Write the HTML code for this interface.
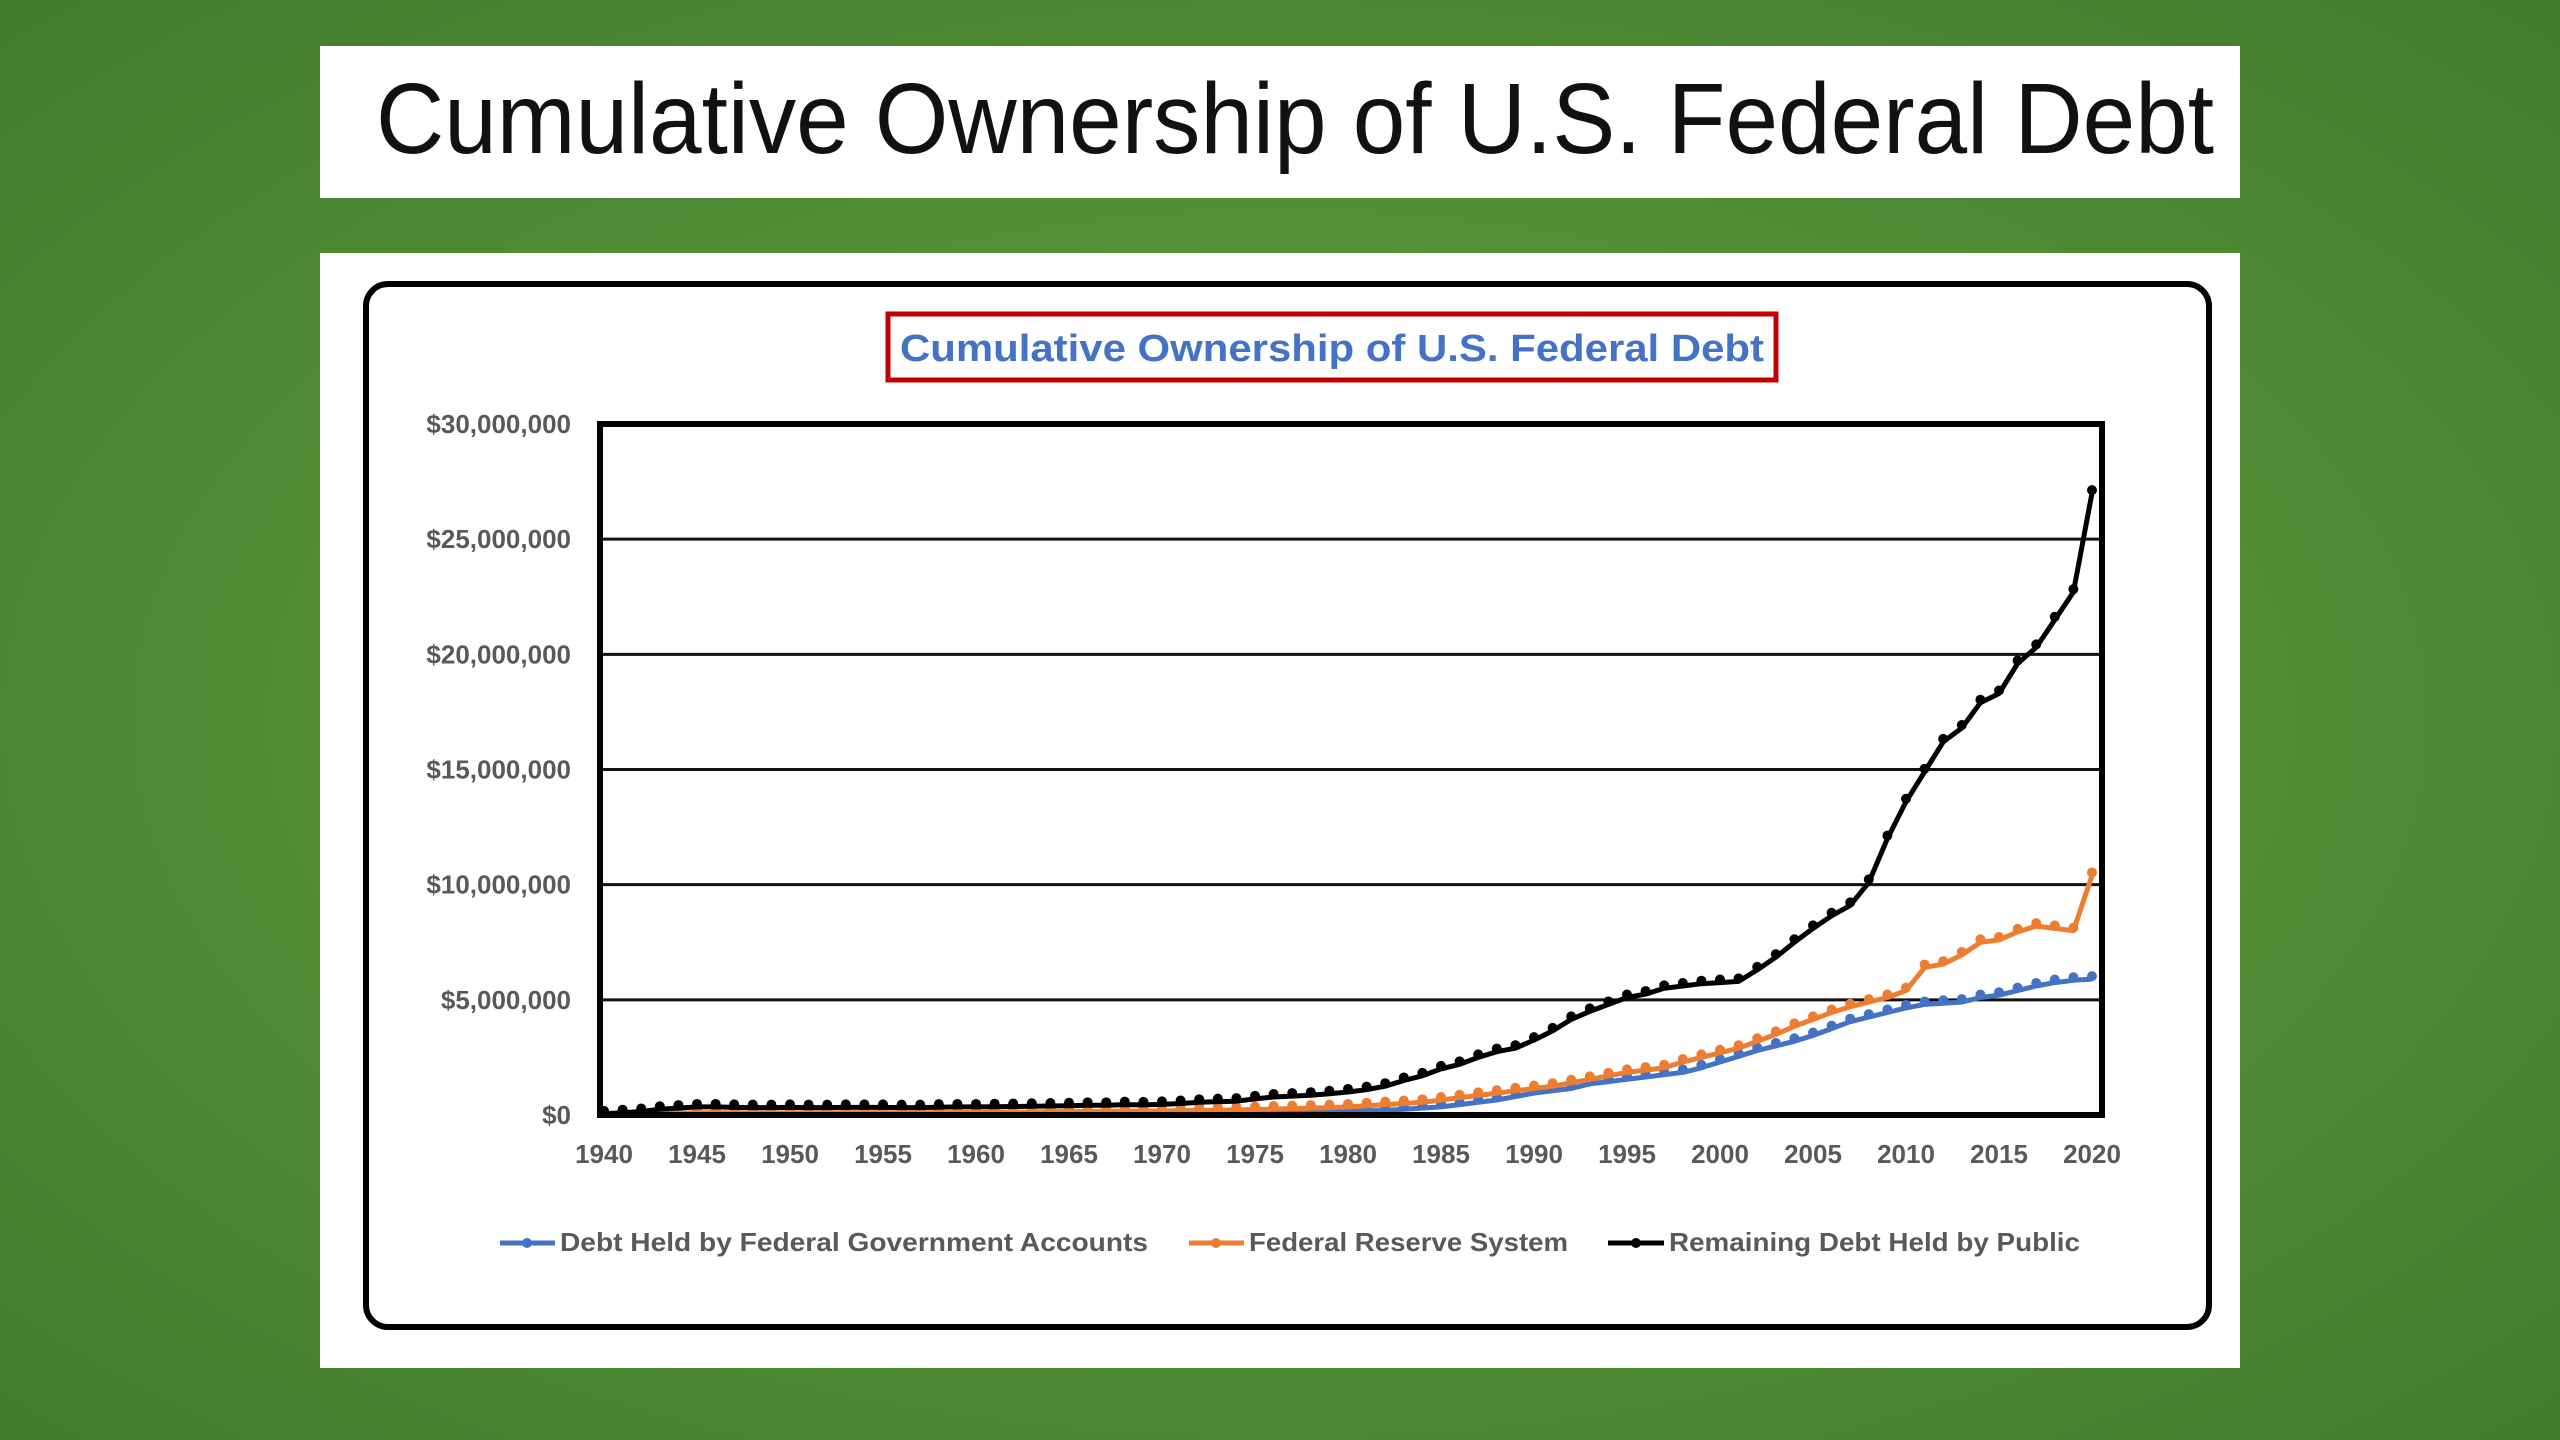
<!DOCTYPE html>
<html><head><meta charset="utf-8"><style>
html,body{margin:0;padding:0;width:2560px;height:1440px;overflow:hidden}
svg{display:block}
text{font-family:"Liberation Sans",Arial,sans-serif}
</style></head><body>
<svg id="root" width="2560" height="1440" viewBox="0 0 2560 1440" xmlns="http://www.w3.org/2000/svg">
<defs>
<radialGradient id="bg" cx="50%" cy="50%" r="75%">
<stop offset="0" stop-color="#66a040"/><stop offset="1" stop-color="#3f7a2b"/>
</radialGradient>
</defs>
<rect width="2560" height="1440" fill="url(#bg)"/>
<rect x="320" y="46" width="1920" height="152" fill="#fff"/>
<text x="376" y="153" font-size="100" fill="#111" textLength="1838" lengthAdjust="spacingAndGlyphs">Cumulative Ownership of U.S. Federal Debt</text>
<rect x="320" y="253" width="1920" height="1115" fill="#fff"/>
<rect x="366" y="284" width="1843" height="1043" rx="22" fill="none" stroke="#000" stroke-width="6"/>
<rect x="888" y="314" width="888" height="66" fill="#fff" stroke="#c00000" stroke-width="5"/>
<text x="900" y="361" font-size="38" font-weight="bold" fill="#4472c4" textLength="864" lengthAdjust="spacingAndGlyphs">Cumulative Ownership of U.S. Federal Debt</text>
<g id="grid"></g>
<g id="series"></g>
<rect x="600" y="424" width="1502" height="691" fill="none" stroke="#000" stroke-width="6"/>
<g id="legend">
<line x1="500" y1="1243" x2="555" y2="1243" stroke="#4472c4" stroke-width="5"/>
<circle cx="527" cy="1243" r="5" fill="#4472c4"/>
<text x="560" y="1251" font-size="26" font-weight="bold" fill="#595959" textLength="588" lengthAdjust="spacingAndGlyphs">Debt Held by Federal Government Accounts</text>
<line x1="1189" y1="1243" x2="1244" y2="1243" stroke="#ed7d31" stroke-width="5"/>
<circle cx="1216" cy="1243" r="5" fill="#ed7d31"/>
<text x="1249" y="1251" font-size="26" font-weight="bold" fill="#595959" textLength="319" lengthAdjust="spacingAndGlyphs">Federal Reserve System</text>
<line x1="1608" y1="1243" x2="1664" y2="1243" stroke="#000" stroke-width="5"/>
<circle cx="1636" cy="1243" r="5" fill="#000"/>
<text x="1669" y="1251" font-size="26" font-weight="bold" fill="#595959" textLength="411" lengthAdjust="spacingAndGlyphs">Remaining Debt Held by Public</text>
</g>
</svg>
<script>
const years = [];
for (let y = 1940; y <= 2020; y++) years.push(y);
const yTicks = [0, 5, 10, 15, 20, 25, 30];
const yTickLabels = ["$0","$5,000,000","$10,000,000","$15,000,000","$20,000,000","$25,000,000","$30,000,000"];
const xTickYears = [1940,1945,1950,1955,1960,1965,1970,1975,1980,1985,1990,1995,2000,2005,2010,2015,2020];
// values in millions of axis units (axis shows 0..30,000,000)
const federalAccounts = [0.01,0.01,0.01,0.02,0.02,0.03,0.03,0.03,0.03,0.03,0.03,0.03,0.04,0.04,0.04,0.04,0.04,0.04,0.04,0.04,0.04,0.04,0.05,0.05,0.05,0.05,0.06,0.06,0.06,0.06,0.07,0.07,0.08,0.08,0.09,0.09,0.1,0.11,0.12,0.13,
0.15,0.18,0.2,0.25,0.3,0.35,0.45,0.55,0.65,0.8,0.95,1.05,1.15,1.35,1.45,1.55,1.65,1.75,1.85,2.05,2.3,2.55,2.8,3.0,3.2,3.45,3.75,4.05,4.25,4.45,4.65,4.8,4.85,4.9,5.1,5.2,5.4,5.6,5.75,5.85,5.9];
const federalReserve = [0.02,0.03,0.04,0.06,0.08,0.1,0.1,0.09,0.09,0.09,0.09,0.09,0.1,0.1,0.1,0.1,0.1,0.1,0.1,0.11,0.11,0.12,0.12,0.13,0.14,0.15,0.15,0.16,0.17,0.17,0.18,0.19,0.2,0.21,0.22,0.24,0.26,0.28,0.3,0.32,
0.35,0.4,0.45,0.5,0.55,0.65,0.75,0.85,0.95,1.05,1.15,1.25,1.4,1.55,1.7,1.85,1.95,2.05,2.3,2.5,2.7,2.9,3.2,3.5,3.85,4.15,4.45,4.7,4.9,5.1,5.4,6.4,6.55,6.95,7.5,7.6,7.95,8.2,8.1,8.0,10.4];
const remainingPublic = [0.05,0.1,0.15,0.25,0.3,0.35,0.35,0.33,0.32,0.32,0.33,0.32,0.32,0.33,0.33,0.33,0.32,0.32,0.34,0.35,0.35,0.36,0.37,0.38,0.39,0.4,0.42,0.42,0.45,0.44,0.46,0.5,0.55,0.58,0.6,0.7,0.78,0.82,0.86,0.92,
1.0,1.1,1.25,1.5,1.7,2.0,2.2,2.5,2.75,2.9,3.25,3.65,4.15,4.5,4.8,5.1,5.25,5.5,5.6,5.7,5.75,5.8,6.3,6.85,7.5,8.1,8.65,9.1,10.1,12.0,13.6,14.9,16.2,16.8,17.9,18.3,19.6,20.3,21.5,22.7,27.0];

const NS = "http://www.w3.org/2000/svg";
const X0 = 604, X1 = 2092, Y0 = 1115, Y1 = 424;
function xScale(yr){ return X0 + (yr - 1940) / 80 * (X1 - X0); }
function yScale(v){ return Y0 - v / 30 * (Y0 - Y1); }

const grid = document.getElementById('grid');
yTicks.forEach((t, i) => {
  const yy = yScale(t);
  if (t > 0 && t < 30) {
    const l = document.createElementNS(NS, 'line');
    l.setAttribute('x1', 600); l.setAttribute('x2', 2102);
    l.setAttribute('y1', yy); l.setAttribute('y2', yy);
    l.setAttribute('stroke', '#111'); l.setAttribute('stroke-width', 3);
    
    
    grid.appendChild(l);
  }
  const tx = document.createElementNS(NS, 'text');
  tx.setAttribute('x', 571); tx.setAttribute('y', yy + 9);
  tx.setAttribute('text-anchor', 'end'); tx.setAttribute('font-size', 26);
  tx.setAttribute('font-weight', 'bold'); tx.setAttribute('fill', '#595959');
  tx.textContent = yTickLabels[i];
  
  
  grid.appendChild(tx);
});
xTickYears.forEach(yr => {
  const tx = document.createElementNS(NS, 'text');
  tx.setAttribute('x', xScale(yr)); tx.setAttribute('y', 1163);
  tx.setAttribute('text-anchor', 'middle'); tx.setAttribute('font-size', 26);
  tx.setAttribute('font-weight', 'bold'); tx.setAttribute('fill', '#595959');
  tx.textContent = yr;
  
  
  grid.appendChild(tx);
});

const seriesG = document.getElementById('series');
function drawSeries(vals, color, name){
  const g = document.createElementNS(NS, 'g');
  
  
  const pts = vals.map((v, i) => xScale(years[i]).toFixed(1) + ',' + yScale(v).toFixed(1)).join(' ');
  const pl = document.createElementNS(NS, 'polyline');
  pl.setAttribute('points', pts); pl.setAttribute('fill', 'none');
  pl.setAttribute('stroke', color); pl.setAttribute('stroke-width', 5);
  pl.setAttribute('stroke-linejoin', 'round');
  
  
  g.appendChild(pl);
  vals.forEach((v, i) => {
    const c = document.createElementNS(NS, 'circle');
    c.setAttribute('cx', xScale(years[i])); c.setAttribute('cy', yScale(v) - 3);
    c.setAttribute('r', 5); c.setAttribute('fill', color);
    
    
    g.appendChild(c);
  });
  seriesG.appendChild(g);
}
drawSeries(federalAccounts, '#4472c4', 'federal-accounts-series');
drawSeries(federalReserve, '#ed7d31', 'federal-reserve-series');
drawSeries(remainingPublic, '#000000', 'public-series');
</script>
</body></html>
